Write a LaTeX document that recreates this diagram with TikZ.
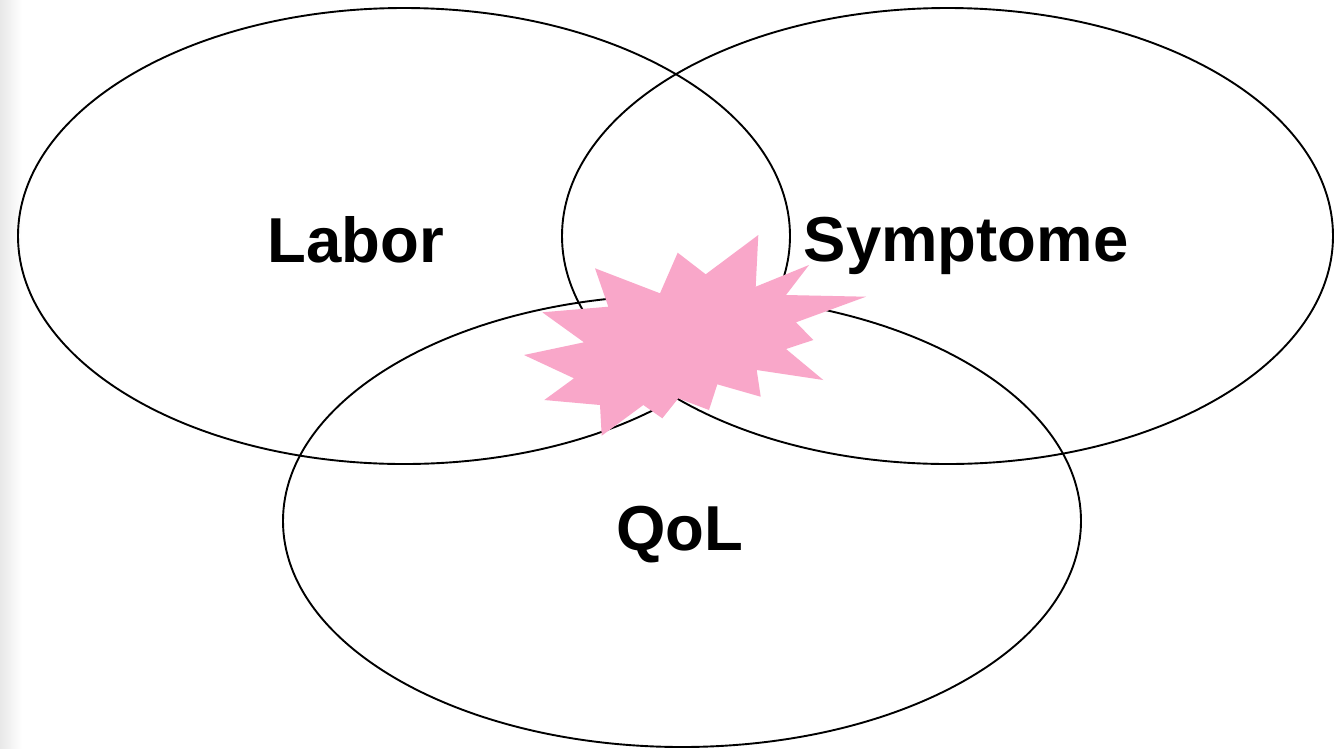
\documentclass[tikz,border=0pt]{standalone}
\usepackage{fontspec}
\setmainfont{Liberation Sans}
\begin{document}
\begin{tikzpicture}[x=1pt,y=-1pt,
  ring/.style={draw=black,line width=1.9pt},
  lbl/.style={font=\fontsize{63.5}{63.5}\selectfont\bfseries,text=black,inner sep=0pt,anchor=base},
  burst/.style={fill=starpink,draw=none}]
\definecolor{starpink}{HTML}{F9A7C9}
\useasboundingbox (0,0) rectangle (1341,748);
\fill[white] (0,0) rectangle (1341,748);
\shade[left color=black!9,right color=white] (0,0) rectangle (22,748);
\draw[ring] (404,236) ellipse[x radius=386,y radius=228];
\draw[ring] (947.5,236) ellipse[x radius=385.5,y radius=228];
\draw[ring] (682,521) ellipse[x radius=399,y radius=226];
\fill[burst] (524,355) -- (584,342.3) -- (542.3,312.3) -- (608.3,306.7) -- (595,268.3)
  -- (660,293.3) -- (677.7,252.7) -- (705.7,274.3) -- (758.3,235) -- (755.7,286.7)
  -- (809,265) -- (786,295) -- (866,296.7) -- (796,322.3) -- (813.3,340) -- (786,349)
  -- (823.3,380) -- (756.7,370) -- (760.7,396.7) -- (717.3,384.3) -- (709,410)
  -- (678.3,398.3) -- (662.3,418.3) -- (643.3,405) -- (601.7,435.7) -- (600,405)
  -- (544.3,400) -- (574,378.3) -- cycle;
\node[lbl] (labor) at (356,262) {Labor};
\node[lbl] (symp) at (966,261) {Symptome};
\node[lbl] (qol) at (680,550) {QoL};
\end{tikzpicture}
\end{document}
